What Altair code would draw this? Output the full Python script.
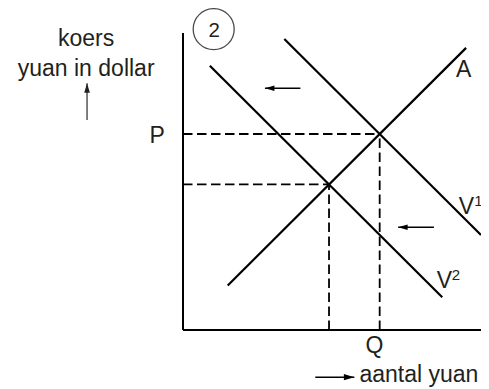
import altair as alt
import pandas as pd

FONT = "Liberation Sans"
INK = "#231f20"

# axis extent (quantity of yuan on x, exchange rate on y)
axis_max = 10

# curves: supply A, demand V1 (before) and V2 (after the shift)
curve_names = ["A", "V1", "V2"]
curve_q_start = [1.5, 3.4, 0.9]
curve_r_start = [1.5, 9.8, 8.9]
curve_q_end = [9.5, 10.0, 8.7]
curve_r_end = [9.5, 3.2, 1.1]

# equilibria: (Q, P) with V1 and the new one with V2
eq_q = [6.6, 4.9]
eq_r = [6.6, 4.9]

# horizontal shift arrows (pointing left)
shift_r = [8.14, 3.46]
shift_q_from = [3.94, 8.42]
shift_q_to = [2.75, 7.22]

# axis-title arrows
up_arrow_q = [-3.22]
up_arrow_r_from = [7.07]
up_arrow_r_to = [8.31]
right_arrow_r = [-1.59]
right_arrow_q_from = [4.44]
right_arrow_q_to = [5.75]

# labels (centered)
label_text = ["A", "V", "V", "P", "Q", "koers", "yuan in dollar"]
label_q = [9.42, 9.51, 8.77, -0.87, 6.42, -3.25, -3.25]
label_r = [8.51, 3.92, 1.40, 6.30, -0.77, 9.55, 8.55]

# superscripts of V1 and V2 (left aligned)
sup_text = ["1", "2"]
sup_q = [9.77, 9.02]
sup_r = [4.19, 1.70]

# x-axis title (left aligned)
xtitle_text = ["aantal yuan"]
xtitle_q = [5.92]
xtitle_r = [-1.76]

# circled figure number
badge_text = ["2"]
badge_q = [1.03]
badge_r = [10.13]

xs = alt.Scale(domain=[0, axis_max], nice=False, zero=False)
ys = alt.Scale(domain=[0, axis_max], nice=False, zero=False)


def X(f="x"):
    return alt.X(f"{f}:Q", scale=xs, axis=None)


def Y(f="y"):
    return alt.Y(f"{f}:Q", scale=ys, axis=None)


def segs(df, **kw):
    return alt.Chart(df).mark_rule(**kw).encode(
        x=X("x"), y=Y("y"), x2="x2:Q", y2="y2:Q"
    )


axes_df = pd.DataFrame(
    {"x": [0, 0], "y": [0, 0], "x2": [0, axis_max], "y2": [axis_max, 0]}
)
curves_df = pd.DataFrame(
    {
        "name": curve_names,
        "x": curve_q_start,
        "y": curve_r_start,
        "x2": curve_q_end,
        "y2": curve_r_end,
    }
)
dash_df = pd.DataFrame(
    {
        "x": [0] * len(eq_q) + eq_q,
        "y": eq_r + [0] * len(eq_q),
        "x2": eq_q + eq_q,
        "y2": eq_r + eq_r,
    }
)
shift_df = pd.DataFrame(
    {"x": shift_q_from, "y": shift_r, "x2": shift_q_to, "y2": shift_r}
)
shift_head_df = pd.DataFrame({"x": shift_q_to, "y": shift_r})
up_df = pd.DataFrame(
    {"x": up_arrow_q, "y": up_arrow_r_from, "x2": up_arrow_q, "y2": up_arrow_r_to}
)
up_head_df = pd.DataFrame({"x": up_arrow_q, "y": up_arrow_r_to})
right_df = pd.DataFrame(
    {
        "x": right_arrow_q_from,
        "y": right_arrow_r,
        "x2": right_arrow_q_to,
        "y2": right_arrow_r,
    }
)
right_head_df = pd.DataFrame({"x": right_arrow_q_to, "y": right_arrow_r})

LEFT_HEAD = "M0,0 L2,-0.6 L2,0.6 Z"
UP_HEAD = "M0,0 L-0.6,2 L0.6,2 Z"
RIGHT_HEAD = "M0,0 L-2,-0.6 L-2,0.6 Z"


def head(df, shape, color, size=100):
    return alt.Chart(df).mark_point(
        shape=shape, filled=True, size=size, color=color, opacity=1, strokeWidth=0
    ).encode(x=X("x"), y=Y("y"))


def texts(t, q, r, size, align, color=INK):
    df = pd.DataFrame({"t": t, "x": q, "y": r})
    return alt.Chart(df).mark_text(
        font=FONT, fontSize=size, align=align, baseline="alphabetic", color=color
    ).encode(x=X("x"), y=Y("y"), text="t:N")


layers = [
    segs(axes_df, color="black", strokeWidth=2),
    segs(dash_df, color="black", strokeWidth=1.8, strokeDash=[9.5, 4.5]),
    segs(curves_df, color="black", strokeWidth=2.2),
    segs(shift_df, color="black", strokeWidth=1.3),
    head(shift_head_df, LEFT_HEAD, "black", 90),
    segs(up_df, color="#555555", strokeWidth=1.5),
    head(up_head_df, UP_HEAD, "#222222", 90),
    segs(right_df, color="black", strokeWidth=1.5),
    head(right_head_df, RIGHT_HEAD, "black", 110),
    alt.Chart(pd.DataFrame({"x": badge_q, "y": badge_r}))
    .mark_point(shape="circle", size=1681, color="black", strokeWidth=1.3, filled=False)
    .encode(x=X("x"), y=Y("y")),
    texts(badge_text, [v + 0.02 for v in badge_q], [9.88], 20.5, "center"),
    texts(label_text, label_q, label_r, 23, "center"),
    texts(sup_text, sup_q, sup_r, 15, "left"),
    texts(xtitle_text, xtitle_q, xtitle_r, 23, "left"),
]

chart = (
    alt.layer(*layers)
    .properties(
        width=298,
        height=297,
        autosize=alt.AutoSizeParams(type="none"),
        padding={"left": 175, "top": 25, "right": 0, "bottom": 58},
    )
    .configure_view(stroke=None)
)

chart.save("out.html", embed_options={"renderer": "svg", "actions": False})
